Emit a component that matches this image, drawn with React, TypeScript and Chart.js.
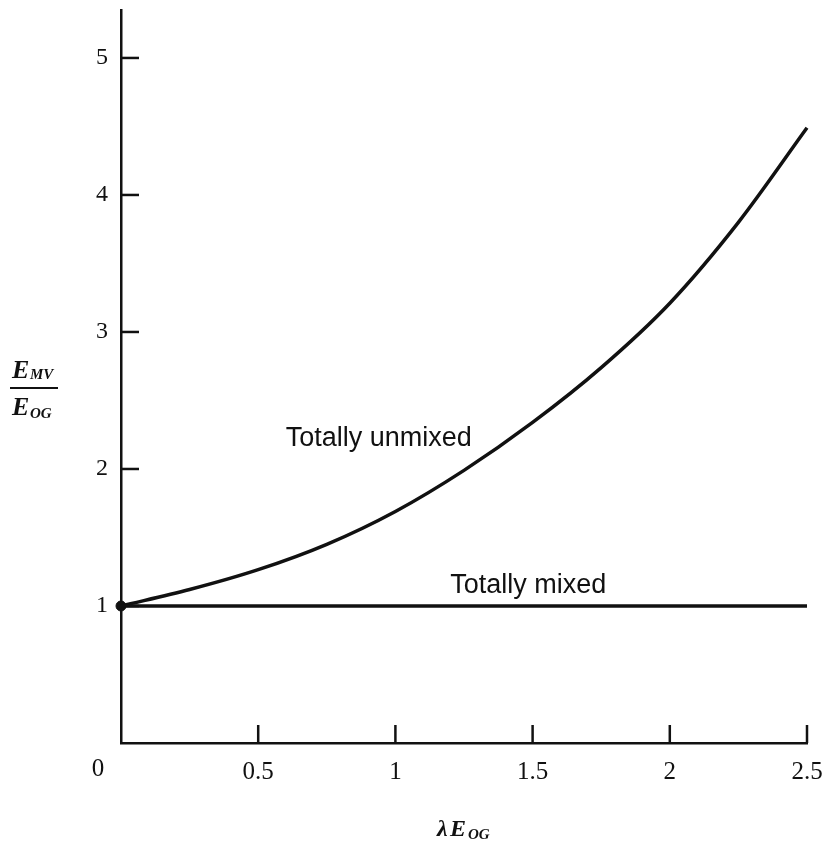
import React, { useEffect, useRef } from "react";
import { Chart, registerables } from "chart.js";

Chart.register(...registerables);

const xValues = [0, 0.25, 0.5, 0.75, 1, 1.25, 1.5, 1.75, 2, 2.25, 2.5];
const unmixedValues = [1.0, 1.12, 1.265, 1.45, 1.69, 1.99, 2.34, 2.74, 3.21, 3.8, 4.49];
const mixedX = [0, 2.5];
const mixedValues = [1, 1];
const originPoint = [{ x: 0, y: 1 }];
const xTicks = [0, 0.5, 1, 1.5, 2, 2.5];
const yTicks = [1, 2, 3, 4, 5];
const unmixedLabel = "Totally unmixed";
const mixedLabel = "Totally mixed";

const INK = "#111";

const decor = {
  id: "decor",
  afterDraw(chart: any) {
    const ctx = chart.ctx;
    const xs = chart.scales.x;
    const ys = chart.scales.y;
    const area = chart.chartArea;
    ctx.save();
    ctx.strokeStyle = INK;
    ctx.lineWidth = 2.5;
    // inner ticks
    xTicks.forEach((v) => {
      if (v === 0) return;
      const px = xs.getPixelForValue(v);
      ctx.beginPath();
      ctx.moveTo(px, area.bottom);
      ctx.lineTo(px, area.bottom - 18);
      ctx.stroke();
    });
    yTicks.forEach((v) => {
      const py = ys.getPixelForValue(v);
      ctx.beginPath();
      ctx.moveTo(area.left, py);
      ctx.lineTo(area.left + 18, py);
      ctx.stroke();
    });
    // "0" label offset left of the axis
    ctx.fillStyle = INK;
    ctx.font = "25px 'Liberation Serif'";
    ctx.textAlign = "center";
    ctx.textBaseline = "middle";
    ctx.fillText("0", area.left - 23, area.bottom + 26);

    // curve annotations
    ctx.font = "27px 'Liberation Sans'";
    ctx.textAlign = "left";
    ctx.textBaseline = "alphabetic";
    ctx.fillText(unmixedLabel, xs.getPixelForValue(0.6), ys.getPixelForValue(2.17));
    ctx.fillText(mixedLabel, xs.getPixelForValue(1.2), ys.getPixelForValue(1.095));

    // y title: fraction
    const cx = 34;
    const cy = 388;
    ctx.font = "bold italic 26px 'Liberation Serif'";
    ctx.textAlign = "left";
    ctx.fillText("E", 12, cy - 10);
    ctx.fillText("E", 12, cy + 27);
    ctx.font = "bold italic 15px 'Liberation Serif'";
    ctx.fillText("MV", 30, cy - 9);
    ctx.fillText("OG", 30, cy + 30);
    ctx.lineWidth = 2;
    ctx.beginPath();
    ctx.moveTo(cx - 24, cy);
    ctx.lineTo(cx + 24, cy);
    ctx.stroke();

    // x title
    const tx = (area.left + area.right) / 2 - 27;
    const ty = 836;
    ctx.font = "bold italic 24px 'Liberation Serif'";
    ctx.fillText("\u03bb", tx, ty);
    ctx.fillText("E", tx + 13, ty);
    ctx.font = "bold italic 15px 'Liberation Serif'";
    ctx.fillText("OG", tx + 31, ty + 3);
    ctx.restore();
  },
};

export default function App() {
  const ref = useRef<HTMLCanvasElement>(null);
  useEffect(() => {
    if (!ref.current) return;
    const chart = new Chart(ref.current, {
      type: "line",
      data: {
        datasets: [
          {
            label: unmixedLabel,
            data: xValues.map((x, i) => ({ x, y: unmixedValues[i] })),
            borderColor: INK,
            borderWidth: 3.5,
            pointRadius: 0,
            cubicInterpolationMode: "monotone",
            fill: false,
            clip: false as any,
          },
          {
            label: mixedLabel,
            data: mixedX.map((x, i) => ({ x, y: mixedValues[i] })),
            borderColor: INK,
            borderWidth: 3.5,
            pointRadius: 0,
            fill: false,
            clip: false as any,
          },
          {
            label: "origin",
            data: originPoint,
            borderColor: INK,
            backgroundColor: INK,
            pointRadius: 5,
            showLine: false,
            clip: false as any,
          },
        ],
      },
      options: {
        responsive: false,
        animation: false,
        layout: { padding: { left: 0, right: 21, top: 10, bottom: 0 } },
        plugins: { legend: { display: false }, tooltip: { enabled: false } },
        scales: {
          x: {
            type: "linear",
            min: 0,
            max: 2.5,
            grid: { display: false, drawTicks: false },
            border: { display: true, color: INK, width: 2.5 },
            afterBuildTicks: (s: any) => {
              s.ticks = xTicks.map((v) => ({ value: v }));
            },
            afterFit: (s: any) => {
              s.height = 98;
              s.paddingLeft = 0;
              s.paddingRight = 0;
            },
            ticks: {
              color: INK,
              padding: 14,
              maxRotation: 0,
              autoSkip: false,
              font: { family: "'Liberation Serif'", size: 25 },
              callback: (v: any) => (v === 0 ? "" : String(v)),
            },
          },
          y: {
            type: "linear",
            min: 0,
            max: 5.35,
            grid: { display: false, drawTicks: false },
            border: { display: true, color: INK, width: 2.5 },
            afterBuildTicks: (s: any) => {
              s.ticks = yTicks.map((v) => ({ value: v }));
            },
            afterFit: (s: any) => {
              s.width = 121;
              s.paddingTop = 0;
              s.paddingBottom = 0;
            },
            ticks: {
              color: INK,
              padding: 13,
              autoSkip: false,
              font: { family: "'Liberation Serif'", size: 24 },
              callback: (v: any) => String(v),
            },
          },
        },
      },
      plugins: [decor],
    });
    return () => chart.destroy();
  }, []);
  return (
    <div style={{ position: "absolute", left: 0, top: 0, width: 828, height: 841, background: "#fff" }}>
      <canvas ref={ref} width={828} height={841} />
    </div>
  );
}
